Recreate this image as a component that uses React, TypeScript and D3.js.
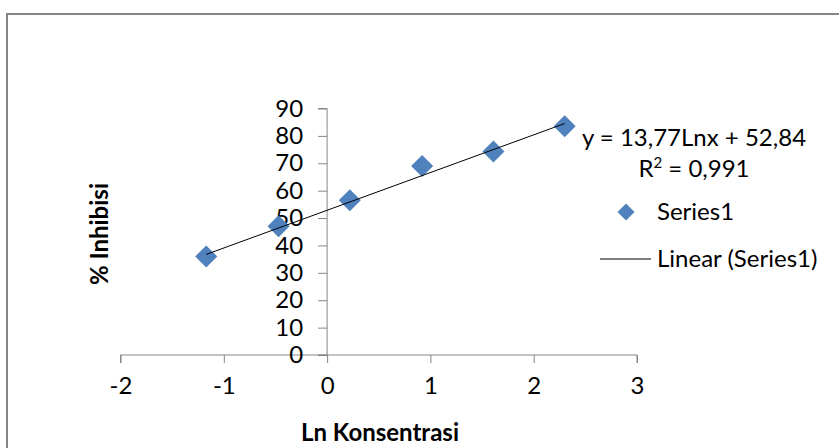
import React, { useRef, useEffect } from 'react';
import * as d3 from 'd3';

// data
const lnKonsentrasi = [-1.17, -0.47, 0.22, 0.92, 1.61, 2.3];
const inhibisi = [36.0, 47.0, 56.5, 69.0, 74.3, 83.5];
const xTicks = [-2, -1, 0, 1, 2, 3];
const yTicks = [0, 10, 20, 30, 40, 50, 60, 70, 80, 90];
const trendSlope = 13.77;
const trendIntercept = 52.84;
const equationText = 'y = 13,77Lnx + 52,84';
const r2Text = '0,991';
const seriesName = 'Series1';
const trendName = 'Linear (Series1)';

const FONT = 'Lato, "Open Sans", sans-serif';
const AXIS = '#868686';
const BLUE = '#4F81BD';

const App = () => {
    const svgRef = useRef<SVGSVGElement>(null);

    useEffect(() => {
        const svg = d3.select(svgRef.current);
        svg.selectAll('*').remove();

        const x = d3.scaleLinear().domain([-2, 3]).range([120.5, 637]);
        const y = d3.scaleLinear().domain([0, 90]).range([355, 108.5]);

        // chart frame
        svg.append('rect')
            .attr('x', 7).attr('y', 14)
            .attr('width', 900).attr('height', 500)
            .attr('fill', 'white')
            .attr('stroke', AXIS)
            .attr('stroke-width', 2);

        const data = lnKonsentrasi.map((v, i) => ({ x: v, y: inhibisi[i] }));

        // x axis crossing at y = 0
        const xAxis = svg.append('g')
            .attr('transform', `translate(0,${y(0)})`)
            .call(d3.axisBottom(x).tickValues(xTicks).tickSize(8).tickPadding(14).tickFormat(d3.format('d')));
        xAxis.selectAll('.domain,line').attr('stroke', AXIS);
        xAxis.select('.domain').attr('d', `M${x(-2)},8V0H${x(3)}V8`);
        xAxis.selectAll('text')
            .style('font-family', FONT).style('font-size', '24px').attr('fill', '#000')
            .text(d => (d as number) < 0 ? `-${Math.abs(d as number)}` : `${d}`);

        // y axis crossing at x = 0
        const yAxis = svg.append('g')
            .attr('transform', `translate(${x(0)},0)`)
            .call(d3.axisLeft(y).tickValues(yTicks).tickSize(9).tickPadding(15));
        yAxis.selectAll('.domain,line').attr('stroke', AXIS);
        yAxis.select('.domain').attr('d', `M-9,${y(90)}H0V${y(0)}H-9`);
        yAxis.selectAll('text')
            .style('font-family', FONT).style('font-size', '24px').attr('fill', '#000');

        // markers
        const diamond = d3.symbol().type(d3.symbolSquare).size(242);
        svg.append('g').selectAll('path')
            .data(data)
            .enter()
            .append('path')
            .attr('d', diamond)
            .attr('transform', d => `translate(${x(d.x)},${y(d.y)}) rotate(45)`)
            .attr('fill', BLUE);

        // trendline
        const xMin = d3.min(lnKonsentrasi) as number;
        const xMax = d3.max(lnKonsentrasi) as number;
        svg.append('line')
            .attr('x1', x(xMin)).attr('y1', y(trendSlope * xMin + trendIntercept))
            .attr('x2', x(xMax)).attr('y2', y(trendSlope * xMax + trendIntercept))
            .attr('stroke', '#000').attr('stroke-width', 1);

        // equation
        const eq = svg.append('g')
            .style('font-family', FONT).style('font-size', '24px').attr('text-anchor', 'middle');
        eq.append('text').attr('x', 694).attr('y', 146).text(equationText);
        const r2 = eq.append('text').attr('x', 694).attr('y', 177);
        r2.append('tspan').text('R');
        r2.append('tspan').attr('dy', -9).style('font-size', '15px').text('2');
        r2.append('tspan').attr('dy', 9).text(` = ${r2Text}`);

        // legend
        const legend = svg.append('g').style('font-family', FONT).style('font-size', '24px');
        legend.append('path')
            .attr('d', d3.symbol().type(d3.symbolSquare).size(144))
            .attr('transform', 'translate(626,212) rotate(45)')
            .attr('fill', BLUE);
        legend.append('text').attr('x', 657).attr('y', 220).text(seriesName);
        legend.append('line')
            .attr('x1', 600).attr('x2', 651).attr('y1', 259).attr('y2', 259)
            .attr('stroke', '#000').attr('stroke-width', 1);
        legend.append('text').attr('x', 657).attr('y', 267).text(trendName);

        // axis titles
        svg.append('text')
            .attr('x', 380).attr('y', 441)
            .attr('text-anchor', 'middle')
            .style('font-family', FONT).style('font-size', '24px').style('font-weight', 'bold')
            .text('Ln Konsentrasi');
        svg.append('text')
            .attr('transform', 'translate(108,234) rotate(-90)')
            .attr('text-anchor', 'middle')
            .style('font-family', FONT).style('font-size', '24px').style('font-weight', 'bold')
            .text('% Inhibisi');
    }, []);

    return (
        <svg ref={svgRef} width={839} height={448}
            style={{ position: 'absolute', left: 0, top: 0, background: 'white' }}></svg>
    );
};

export default App;
